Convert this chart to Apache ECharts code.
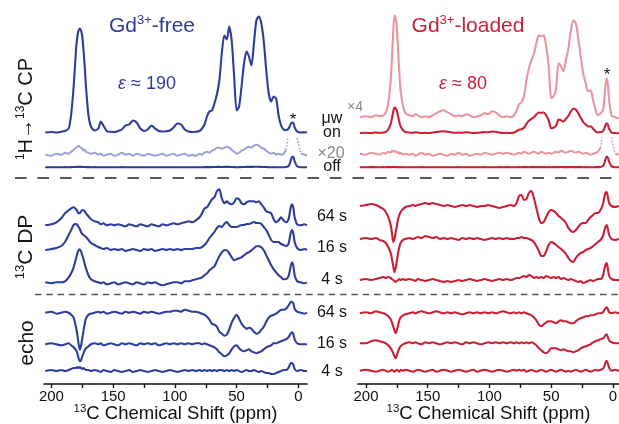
<!DOCTYPE html>
<html>
<head>
<meta charset="utf-8">
<script src="https://cdn.jsdelivr.net/npm/echarts@6/dist/echarts.min.js"></script>
<style>
  html, body { margin: 0; padding: 0; background: #fff; }
  #chart { width: 619px; height: 424px; }
</style>
</head>
<body>
<div id="chart"></div>
<script>
// Chemical shift sampling points (ppm), shared by every spectrum
const ppm = [
  205,200,196,192,189,186,184,182,180,179,
  178,177,176,175,174,173,172,170,168,165,
  162,160,158,155,152,149,146,143,140,137,
  134,131,128,125,122,119,116,113,110,107,
  104,101,98,95,92,89,86,83,80,78,
  76,74,72,70,68,66,64,62,60,58,
  56,54,52,50,48,46,44,42,40,38,
  36,34,32,30,28,26,24,22,20,18,
  16,14,12,10,8,7,6,5,4,3,
  1,-2,-5,-7
];

// ---- Gd3+-free sample ----
// 1H->13C CP, microwaves on
const cpOnFree = [
  0,0.5,0,0.8,1.5,4,18,46,84,96,
  102,104,102,96,82,66,46,17,6,2,
  4,11,7,1.3,0.7,0.5,1.5,3,7,8,
  12,10,4,1.5,3,7,4,1.5,1,1.2,
  2,5,9,8,3,1,0.5,0.8,1.5,4,
  8,16,21,22,29,38,52,79,97,93,
  106,92,56,22,26,46,69,81,76,67,
  89,112,116,109,91,62,39,31,36,34,
  17,7,3,2.3,3.7,6.3,9,10,9.5,5,
  1,0,0.3,0
];
// 1H->13C CP, microwaves off (shown x20 and x1)
const cpOffFree = [
  1,0,2,1,3,2,4,6,8,9,
  10,9,8,7,5,6,4,3,2,3,
  1,2,0,1,2,0,1,3,1,2,
  0,2,1,0,2,1,0,1,2,0,
  1,2,0,1,2,0,1,0,2,1,
  3,4,3,5,6,8,8,7,8,9,
  8,6,4,2,3,5,6,8,9,8,
  10,11,10,8,7,5,3,2,3,1,
  2,1,2,6,24,70,150,210,205,120,
  20,2,1,0
];
// 13C direct polarization, 64 s / 16 s / 4 s
const dpFree64 = [
  0,1,3,7,12,15,17,18,16,14,
  12,12,14,15,15,14,12,9,6,4,
  3,1,2,0,1,0,1,0,-1,1,
  0,-1,1,0,-1,1,0,-1,1,0,
  1,2,1,2,3,4,3,5,8,12,
  17,18,22,26,28,34,36,27,22,24,
  22,21,23,27,26,22,21,23,24,24,
  24,23,24,21,18,14,13,12,6,3,
  5,8,5,3,6,12,19,21,17,8,
  1,0,1,0
];
const dpFree16 = [
  0,1,2,4,8,15,20,25,26,25,
  23,21,18,16,15,14,13,10,7,5,
  3,2,1,2,0,1,0,1,-1,0,
  1,0,-1,1,0,1,-1,0,1,0,
  1,0,1,0,1,1,1,2,2,3,
  5,8,12,15,18,22,24,23,26,28,
  25,23,23,23,24,25,25,26,26,27,
  28,27,27,26,23,20,15,10,8,8,
  8,6,5,4,6,12,18,20,16,8,
  2,0,1,0
];
const dpFree4 = [
  1,0,1,1,2,6,10,16,25,30,
  33,34,32,28,24,19,15,8,4,2,
  1,0,1,-1,0,1,-1,0,1,0,
  -1,1,0,-1,1,0,1,-1,-2,-1,
  0,1,1,0,2,2,3,4,5,6,
  8,10,13,15,17,22,27,31,33,33,
  30,26,23,24,25,26,28,30,31,33,
  35,37,37,36,33,28,23,18,14,11,
  8,6,4,4,7,12,18,21,17,8,
  2,1,0,1
];
// Echo-filtered spectra, 64 s / 16 s / 4 s
const echoFree64 = [
  0,1,-1,0,1,0,-2,-5,-15,-22,
  -31,-37,-33,-26,-18,-11,-6,-2,-1,0,
  1,0,1,-1,0,1,0,-1,1,0,
  1,0,-1,1,0,1,0,-1,0,1,
  1,2,2,1,3,2,1,1,0,-1,
  -2,-4,-7,-11,-12,-14,-19,-21,-23,-22,
  -17,-10,-5,-2,-6,-11,-14,-16,-15,-16,
  -19,-21,-20,-17,-14,-9,-5,-3,-2,-1,
  1,3,3,4,7,9,11,11,9,4,
  1,0,-1,0
];
const echoFree16 = [
  0,1,0,-1,0,1,-1,-3,-6,-9,
  -14,-17,-16,-12,-9,-6,-4,-2,0,1,
  0,1,-1,0,1,0,-1,1,0,1,
  0,-1,1,0,1,0,1,-1,0,1,
  0,1,0,1,0,1,0,1,1,0,
  1,0,-1,-2,-3,-5,-8,-10,-12,-11,
  -9,-5,-2,-1,-4,-6,-7,-6,-5,-7,
  -8,-9,-8,-7,-5,-3,-2,-1,1,1,
  2,3,4,5,7,9,11,12,10,5,
  1,0,0,0
];
const echoFree4 = [
  0,1,0,1,0,1,2,3,3,4,
  3,4,3,2,3,2,1,1,0,1,
  0,-1,1,0,-1,1,0,-1,0,1,
  -1,0,1,0,-1,0,1,0,-1,0,
  1,0,-1,0,1,0,1,0,1,0,
  1,0,1,0,1,0,1,1,0,1,
  0,1,0,1,0,-1,0,1,0,0,
  1,0,-1,0,-1,-2,-2,-3,-3,-2,
  -1,0,1,1,3,6,8,8,6,2,
  0,1,0,0
];

// ---- Gd3+-loaded sample ----
// 1H->13C CP, microwaves on (shown x4 and x1)
const cpOnLoaded = [
  1,2,1,3,2,3,6,15,38,60,
  85,103,100,90,68,45,28,12,5,3,
  2,4,3,1,2,1,3,5,7,8,
  6,4,2,3,2,4,3,1,2,3,
  5,4,7,6,3,1,2,1,3,8,
  14,16,22,38,50,58,64,75,83,82,
  83,72,52,20,22,30,55,52,47,58,
  70,88,98,95,80,62,45,35,27,28,
  18,8,3,5,8,18,32,40,34,18,
  3,1,0,0
];
// 1H->13C CP, microwaves off (shown x20 and x1)
const cpOffLoaded = [
  2,1,3,2,1,3,2,4,3,5,
  4,5,4,3,4,2,3,1,2,1,
  2,0,1,3,1,2,0,1,2,1,
  0,2,1,3,1,2,0,1,2,1,
  3,2,1,2,3,2,3,2,1,2,
  3,2,4,3,2,3,4,3,2,4,
  3,2,3,2,3,4,3,5,4,3,
  4,5,4,3,4,3,2,3,2,1,
  2,3,4,8,26,72,160,213,190,110,
  18,2,1,0
];
const dpLoaded64 = [
  0,1,2,1,-1,-3,-6,-11,-19,-27,
  -36,-33,-27,-20,-13,-9,-6,-3,-1,0,
  1,0,1,2,3,2,3,2,1,0,
  1,0,-1,0,1,0,1,0,-1,0,
  0,1,0,-1,-2,-1,0,1,0,3,
  10,11,6,7,13,15,8,-2,-12,-17,
  -16,-11,-6,-4,-5,-7,-10,-12,-14,-17,
  -22,-25,-26,-24,-21,-18,-17,-17,-14,-11,
  -9,-7,-7,-4,2,8,13,14,9,3,
  0,-1,0,0
];
const dpLoaded16 = [
  0,1,0,1,-1,-2,-4,-8,-14,-20,
  -27,-33,-29,-22,-14,-8,-4,-1,0,1,
  0,1,2,1,3,2,1,2,0,1,
  0,1,0,-1,1,0,1,0,1,0,
  -1,0,1,0,1,0,1,0,0,1,
  1,2,1,1,0,-1,-3,-7,-12,-17,
  -17,-12,-6,-3,-4,-6,-8,-10,-12,-15,
  -19,-22,-23,-19,-16,-14,-13,-11,-10,-9,
  -7,-5,-3,-1,3,8,12,14,10,4,
  0,-1,0,0
];
const dpLoaded4 = [
  0,1,0,1,2,3,2,3,2,1,
  0,-1,-2,-1,0,1,0,1,0,1,
  0,-1,1,0,-1,0,1,0,-1,-2,
  -1,-2,-1,0,-1,0,1,0,-1,0,
  1,0,-1,0,1,0,1,0,1,2,
  2,3,4,3,5,4,2,3,2,3,
  2,4,3,2,3,2,3,1,2,1,
  0,1,0,-1,-2,-1,-3,-2,-1,0,
  -1,0,1,1,4,10,15,17,11,4,
  1,0,0,0
];
const echoLoaded64 = [
  0,1,0,2,1,0,-1,-3,-6,-9,
  -13,-17,-20,-17,-12,-7,-4,-2,-1,0,
  1,0,1,2,1,0,1,2,1,0,
  1,0,1,0,-1,0,1,0,1,0,
  1,0,1,0,1,2,1,0,1,0,
  1,0,1,0,-1,-2,-4,-7,-11,-13,
  -11,-9,-8,-8,-9,-10,-8,-7,-8,-8,
  -9,-10,-10,-8,-6,-5,-4,-3,-3,-2,
  -2,-1,0,0,1,3,5,6,4,1,
  0,1,0,0
];
const echoLoaded16 = [
  0,0,2,3,2,1,0,-2,-5,-7,
  -10,-13,-15,-12,-8,-5,-3,-1,0,1,
  0,1,0,-1,1,0,1,0,-1,0,
  1,0,1,0,-1,1,0,1,0,-1,
  0,1,0,1,0,1,0,1,0,1,
  0,1,0,1,0,1,0,-2,-5,-7,
  -9,-10,-8,-5,-5,-5,-6,-7,-6,-7,
  -8,-8,-9,-8,-7,-5,-4,-3,-2,-1,
  1,2,3,4,5,6,8,9,6,3,
  1,0,0,0
];
const echoLoaded4 = [
  0,1,0,-1,0,1,0,-1,0,1,
  0,-1,0,1,0,-1,1,0,1,0,
  -1,0,1,0,-1,0,1,-1,0,1,
  0,-1,0,1,0,-1,0,1,-1,0,
  1,0,-1,0,1,0,-1,0,1,0,
  1,0,1,-1,0,1,0,-1,0,1,
  0,-1,0,1,0,-1,0,1,0,-1,
  0,-1,0,1,0,-1,0,1,0,-1,
  0,1,0,1,2,4,8,10,7,3,
  0,1,0,0
];

// Axis ticks
const tickPpm = [0, 25, 50, 75, 100, 125, 150, 175, 200];
const labelPpm = [0, 50, 100, 150, 200];

// ---- styling / layout ----
const FONT = '"Liberation Sans", Arial, Helvetica, sans-serif';
const BLUE = '#2e3c9c', BLUE_L = '#9ba3d5';
const RED = '#c91f37', RED_L = '#e9949e';
const AXIS_Y = 384;          // pixel row of the bottom axis
const H = 424;

const panels = {
  free:   { left: 44,  width: 263, min: -7, max: 206 },
  loaded: { left: 358, width: 261, min: -5, max: 206.5 }
};

// base: pixel row of the zero line, gain: pixels per unit, top: clip edge
const traces = [
  { panel: 'free', data: cpOnFree,   base: 132.5, gain: 1,    color: BLUE },
  { panel: 'free', data: cpOffFree,  base: 155.7, gain: 1,    color: BLUE_L, top: 138, cutAt: 15 },
  { panel: 'free', data: cpOffFree,  base: 167.3, gain: 0.05, color: BLUE },
  { panel: 'free', data: dpFree64,   base: 225.3, gain: 1,    color: BLUE },
  { panel: 'free', data: dpFree16,   base: 250,   gain: 1,    color: BLUE },
  { panel: 'free', data: dpFree4,    base: 283.3, gain: 1,    color: BLUE },
  { panel: 'free', data: echoFree64, base: 312.7, gain: 1,    color: BLUE },
  { panel: 'free', data: echoFree16, base: 344.3, gain: 1,    color: BLUE },
  { panel: 'free', data: echoFree4,  base: 371,   gain: 1,    color: BLUE, axis: true },

  { panel: 'loaded', data: cpOnLoaded,   base: 118.3, gain: 1,    color: RED_L },
  { panel: 'loaded', data: cpOnLoaded,   base: 133.3, gain: 0.25, color: RED },
  { panel: 'loaded', data: cpOffLoaded,  base: 155.7, gain: 1,    color: RED_L, top: 138, cutAt: 15 },
  { panel: 'loaded', data: cpOffLoaded,  base: 167.3, gain: 0.05, color: RED },
  { panel: 'loaded', data: dpLoaded64,   base: 206,   gain: 1,    color: RED },
  { panel: 'loaded', data: dpLoaded16,   base: 239,   gain: 1,    color: RED },
  { panel: 'loaded', data: dpLoaded4,    base: 280,   gain: 1,    color: RED },
  { panel: 'loaded', data: echoLoaded64, base: 313.3, gain: 1,    color: RED },
  { panel: 'loaded', data: echoLoaded16, base: 343.3, gain: 1,    color: RED },
  { panel: 'loaded', data: echoLoaded4,  base: 370.7, gain: 1,    color: RED, axis: true }
];

const grids = [], xAxes = [], yAxes = [], series = [];

traces.forEach((t, i) => {
  const p = panels[t.panel];
  const top = t.top || 0;
  grids.push({ left: p.left, width: p.width, top: top, bottom: H - AXIS_Y,
               containLabel: false, outerBoundsMode: 'none' });
  const yMin = (t.base - AXIS_Y) / t.gain;
  const yMax = yMin + (AXIS_Y - top) / t.gain;
  yAxes.push({ type: 'value', gridIndex: i, min: yMin, max: yMax, show: false });

  const xa = { type: 'value', gridIndex: i, min: p.min, max: p.max, inverse: true,
               show: !!t.axis, splitLine: { show: false } };
  if (t.axis) {
    Object.assign(xa, {
      axisLine: { show: true, onZero: false, lineStyle: { color: '#111', width: 1.7 } },
      axisTick: { show: true, customValues: tickPpm, length: 4, inside: false,
                  lineStyle: { color: '#111', width: 1.4 } },
      axisLabel: { customValues: labelPpm, fontSize: 15, color: '#111', margin: 5, fontFamily: FONT },
      name: '{s|13}C Chemical Shift (ppm)',
      nameLocation: 'middle',
      nameGap: 19,
      nameMoveOverlap: false,
      nameTextStyle: {
        fontSize: 18.5, color: '#111', fontFamily: FONT, lineHeight: 21,
        rich: { s: { fontSize: 11.5, color: '#111', fontFamily: FONT, verticalAlign: 'top', lineHeight: 14 } }
      }
    });
  }
  xAxes.push(xa);

  const line = (data, type, width) => ({
    type: 'line', xAxisIndex: i, yAxisIndex: i, data: data,
    showSymbol: false, smooth: 0.25, clip: true, silent: true,
    lineStyle: { color: t.color, width: width, type: type },
    connectNulls: false
  });

  if (t.cutAt != null) {
    // Strong peak runs off scale: solid where small, dotted where cut off
    const big = t.data.map(v => v * t.gain > t.cutAt);
    const solid = t.data.map((v, j) => [ppm[j], big[j] ? '-' : v]);
    const dotted = t.data.map((v, j) =>
      [ppm[j], (big[j] || big[j - 1] || big[j + 1]) ? v : '-']);
    series.push(line(solid, 'solid', 2));
    series.push(line(dotted, 'dotted', 1.6));
  } else {
    series.push(line(t.data.map((v, j) => [ppm[j], v]), 'solid', 2.1));
  }
});

// ---- text and separators ----
const txt = (x, y, text, opt) => ({
  type: 'text', x: x, y: y, silent: true,
  style: Object.assign({ text: text, fontFamily: FONT, fontSize: 16, fill: '#151515',
                         align: 'center', verticalAlign: 'middle' }, opt || {})
});

const supRich = (size, color) => ({
  s: { fontSize: size, fill: color, fontFamily: FONT, verticalAlign: 'top', lineHeight: size + 2 }
});

const rotated = (x, y, text, size) => ({
  type: 'text', x: x, y: y, rotation: Math.PI / 2, silent: true,
  style: { text: text, fontFamily: FONT, fontSize: size, fill: '#151515',
           align: 'center', verticalAlign: 'middle', lineHeight: size + 3,
           rich: supRich(Math.round(size * 0.6), '#151515') }
});

const graphics = [
  { type: 'line', silent: true, shape: { x1: 15, y1: 178, x2: 619, y2: 178 },
    style: { stroke: '#222', lineWidth: 1.6, lineDash: [11.5, 11] } },
  { type: 'line', silent: true, shape: { x1: 35, y1: 294.5, x2: 619, y2: 294.5 },
    style: { stroke: '#555', lineWidth: 1.5, lineDash: [6.5, 4.8] } },

  txt(152, 26, 'Gd{s|3+}-free', { fontSize: 21, fill: BLUE, lineHeight: 24, rich: supRich(13, BLUE) }),
  txt(468, 26, 'Gd{s|3+}-loaded', { fontSize: 21, fill: RED, lineHeight: 24, rich: supRich(13, RED) }),
  txt(147, 84, '{e|ε} ≈ 190', { fontSize: 18, fill: BLUE,
      rich: { e: { fontStyle: 'italic', fontSize: 18, fill: BLUE, fontFamily: FONT } } }),
  txt(463, 84, '{e|ε} ≈ 80', { fontSize: 18, fill: RED,
      rich: { e: { fontStyle: 'italic', fontSize: 18, fill: RED, fontFamily: FONT } } }),
  txt(293, 120, '*', { fontSize: 17 }),
  txt(607, 75, '*', { fontSize: 17 }),

  txt(355, 107, '×4', { fontSize: 14, fill: '#8a8a8a' }),
  txt(332, 119, 'μw', { fontSize: 16 }),
  txt(332, 133, 'on', { fontSize: 16 }),
  txt(331, 154, '×20', { fontSize: 16, fill: '#8a8a8a' }),
  txt(332, 167, 'off', { fontSize: 16 }),

  txt(332, 217, '64 s'), txt(332, 248, '16 s'), txt(332, 280, '4 s'),
  txt(332, 313, '64 s'), txt(332, 344, '16 s'), txt(332, 372, '4 s'),

  rotated(26, 109, '{s|1}H→{s|13}C CP', 20),
  rotated(26, 247, '{s|13}C DP', 21),
  rotated(27, 343, 'echo', 21)
];

const chart = echarts.init(document.getElementById('chart'), null, { renderer: 'canvas' });
chart.setOption({
  animation: false,
  backgroundColor: '#fff',
  grid: grids,
  xAxis: xAxes,
  yAxis: yAxes,
  series: series,
  graphic: graphics
});
</script>
</body>
</html>
